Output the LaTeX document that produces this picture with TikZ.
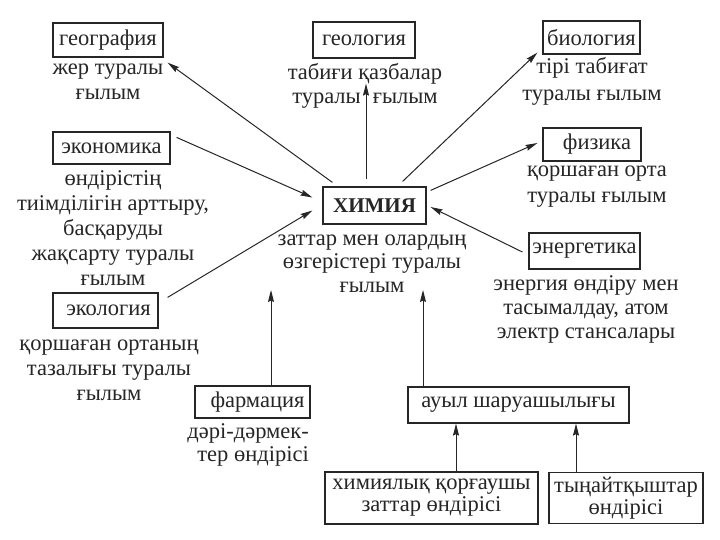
\documentclass[tikz,border=0pt]{standalone}
\usepackage{fontspec}
\setmainfont{Liberation Serif}
\usetikzlibrary{arrows.meta,calc}
\definecolor{ink}{HTML}{262626}
\newcommand{\fsz}[1]{\fontsize{22.5}{#1}\selectfont}
\begin{document}
\begin{tikzpicture}[x=1pt,y=-1pt,
  every node/.style={text=ink},
  box/.style={draw=ink, line width=1.2pt, inner sep=0pt, align=center, font=\fsz{23}},
  desc/.style={inner sep=0pt, align=center, anchor=base},
  arr/.style={draw=ink, line width=1pt, -{Stealth[length=12pt,width=6pt,inset=1.5pt]}}]
\fill[white] (0,0) rectangle (720,540);
\useasboundingbox (0,0) rectangle (720,540);

% boxes
\node[box, minimum width=110, minimum height=34] (geo) at (108,40) {география};
\node[box, minimum width=102, minimum height=36] (geol) at (364,40) {геология};
\node[box, minimum width=97, minimum height=33] (bio) at (591.5,37.5) {биология};
\node[box, minimum width=98, minimum height=33] (fiz) at (592,144.5) {\hspace*{10pt}физика};
\node[box, minimum width=103, minimum height=37, font=\bfseries\fontsize{21}{21}\selectfont] (chem) at (374.5,205.5) {ХИМИЯ};
\node[box, minimum width=111, minimum height=36] (energ) at (584.5,251) {энергетика};
\node[box, minimum width=117, minimum height=32] (econ) at (111.5,148) {экономика};
\node[box, minimum width=105, minimum height=35] (ecol) at (105.5,310.5) {\hspace*{6pt}экология};
\node[box, minimum width=115, minimum height=32] (farm) at (252.5,402) {\hspace*{10pt}фармация};
\node[box, minimum width=221, minimum height=36] (auyl) at (518.5,405) {ауыл шаруашылығы};
\node[box, minimum width=213, minimum height=52, font=\fsz{22}] (prot) at (431.5,498) {химиялық қорғаушы\\заттар өндірісі};
\node[box, minimum width=154, minimum height=51, font=\fsz{22}] (fert) at (626,498) {тыңайтқыштар\\өндірісі};

% descriptions (anchor = baseline of the last line)
\node[desc, font=\fsz{25}] (geoT) at (108,100) {жер туралы\\ғылым};
\node[desc, font=\fsz{23.5}] (geolT) at (365,103.5) {табиғи қазбалар\\туралы\hspace{12pt}ғылым};
\node[desc, font=\fsz{27}] (bioT) at (592,101) {тірі табиғат\\туралы ғылым};
\node[desc, font=\fsz{25.5}] (fizT) at (597,202.5) {қоршаған орта\\туралы ғылым};
\node[desc, font=\fsz{23.5}] (chemT) at (372,292) {заттар мен олардың\\өзгерістері туралы\\ғылым};
\node[desc, font=\fsz{24}] (energT) at (586,338) {энергия өндіру мен\\тасымалдау, атом\\электр стансалары};
\node[desc, font=\fsz{25}] (econT) at (113,285) {өндірістің\\тиімділігін арттыру,\\басқаруды\\жақсарту туралы\\ғылым};
\node[desc, font=\fsz{25}] (ecolT) at (109,400) {қоршаған ортаның\\тазалығы туралы\\ғылым};
\node[desc, font=\fsz{23}, align=right, anchor=base east] (farmT) at (309,461) {дәрі-дәрмек-\\тер өндірісі};

% free arrow ends
\coordinate (farmtip) at (271,290);
\coordinate (auyltip) at (423,290);

% arrows
\draw[arr] ([shift={(10,-4)}]chem.north west) -- ([shift={(4,5)}]geo.south east);
\draw[arr] ([shift={(6,6)}]econ.north east) -- ([shift={(-10,-8)}]chem.west);
\draw[arr] ([shift={(9,5)}]ecol.north east) -- ([shift={(-10,5)}]chem.west);
\draw[arr] ([shift={(-8.5,-7)}]chem.north) -- ([shift={(2,25)}]geol.south);
\draw[arr] ([shift={(-24,-5)}]chem.north east) -- ([shift={(-5,-2)}]bio.south west);
\draw[arr] ([shift={(4,4)}]chem.north east) -- ([shift={(-5,-1.5)}]fiz.west);
\draw[arr] ([shift={(-6,1)}]energ.west) -- ([shift={(4,1.5)}]chem.east);
\draw[arr] (farm.north -| farmtip) -- (farmtip);
\draw[arr] (auyl.north -| auyltip) -- (auyltip);
\draw[arr] ([xshift=24.5]prot.north) -- ([xshift=24.5]prot.north |- auyl.south);
\draw[arr] ([xshift=-50]fert.north) -- ([xshift=-50]fert.north |- auyl.south);
\end{tikzpicture}
\end{document}
